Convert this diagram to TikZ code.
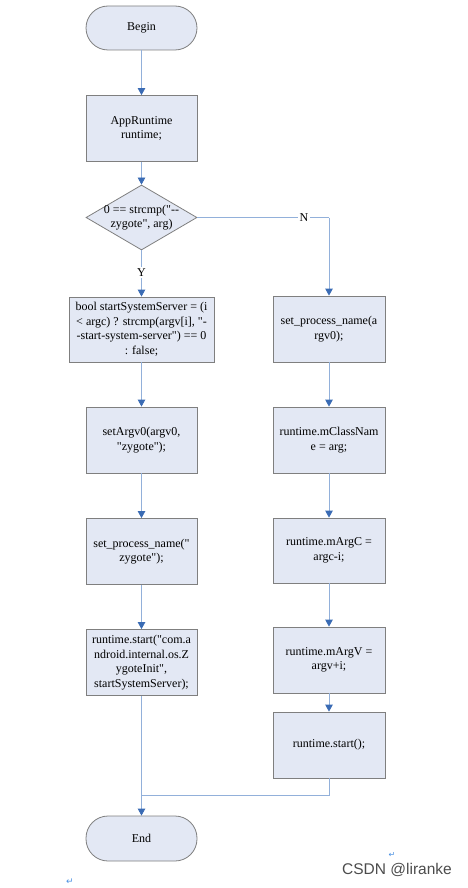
\documentclass[tikz,border=0pt]{standalone}
\usepackage{fontspec}
\setmainfont{Liberation Serif}[Ligatures=TeXOff]
\newfontfamily\wmfont{Liberation Sans}
\newfontfamily\symfont{DejaVu Sans}
\usetikzlibrary{shapes.geometric,arrows.meta}
\definecolor{boxfill}{HTML}{E3E8F4}
\definecolor{boxdraw}{HTML}{7F7F7F}
\definecolor{linecol}{HTML}{92B0DA}
\definecolor{tipcol}{HTML}{3A6BB4}
\definecolor{retcol}{HTML}{4A90E2}
\tikzset{
  box/.style={draw=boxdraw, fill=boxfill, line width=0.8pt, minimum width=111pt, minimum height=66pt, align=center, inner sep=1pt, font=\fontsize{12}{14.5}\selectfont},
  term/.style={box, rounded corners=22pt, minimum height=44pt},
  flow/.style={draw=linecol, line width=0.8pt, -{Triangle[width=7.5pt,length=7pt,color=tipcol]}},
  plain/.style={draw=linecol, line width=0.8pt},
  lab/.style={fill=white, inner sep=1.5pt, font=\fontsize{12}{14}\selectfont}
}
\begin{document}
\begin{tikzpicture}[x=1pt,y=-1pt]
\useasboundingbox (0,0) rectangle (467,888);
% left column
\node[term] (begin) at (141.5,28) {Begin};
\node[box] (app) at (141.5,128.5) {AppRuntime\\runtime;};
\node[draw=boxdraw, fill=boxfill, line width=0.8pt, diamond, minimum width=111pt, minimum height=65pt, inner sep=0pt] (dec) at (141.5,217.5) {};
\node[align=center, font=\fontsize{12}{14.5}\selectfont] (dectext) at (dec) {0 == strcmp("--\\zygote", arg)};
\node[box, minimum width=145pt, minimum height=65pt] (bool) at (141.5,329.5) {bool startSystemServer = (i\\ < argc) ? strcmp(argv[i], "-\\-start-system-server") == 0\\: false;};
\node[box] (setargv) at (141.5,440) {setArgv0(argv0,\\"zygote");};
\node[box] (spn) at (141.5,551.5) {set\_process\_name("\\zygote");};
\node[box] (rstart) at (141.5,662.5) {runtime.start("com.a\\ndroid.internal.os.Z\\ygoteInit",\\startSystemServer);};
\node[term, minimum height=45pt] (end) at (141.5,838.5) {End};
% right column
\node[box, minimum width=112pt] (r1) at (329,329) {set\_process\_name(a\\rgv0);};
\node[box, minimum width=112pt] (r2) at (329,440) {runtime.mClassNam\\e = arg;};
\node[box, minimum width=112pt, minimum height=65pt] (r3) at (329,550.5) {runtime.mArgC =\\argc-i;};
\node[box, minimum width=112pt] (r4) at (329,660) {runtime.mArgV =\\argv+i;};
\node[box, minimum width=112pt] (r5) at (329,745) {runtime.start();};
\coordinate (corner) at (329,217.5);
\coordinate (join) at (141.5,795);
% connectors
\draw[flow] (begin) -- (app);
\draw[flow] (app) -- (dec);
\draw[flow] (dec.south) -- node[lab, pos=0.47] (ylab) {Y} (bool.north);
\draw[plain] (dec.east) -- node[lab, pos=0.81] (nlab) {N} (corner);
\draw[flow] (corner) -- (r1.north);
\draw[flow] (bool) -- (setargv);
\draw[flow] (setargv) -- (spn);
\draw[flow] (spn) -- (rstart);
\draw[flow] (rstart) -- (end);
\draw[flow] (r1) -- (r2);
\draw[flow] (r2) -- (r3);
\draw[flow] (r3) -- (r4);
\draw[flow] (r4) -- (r5);
\draw[plain] (r5.south) |- (join);
% watermark
\node[font=\wmfont\fontsize{15.5}{16}\selectfont, text=black!70, anchor=base, inner sep=0pt] (wm) at (397,874) {CSDN @liranke};
\node[font=\symfont\fontsize{8}{8}\selectfont, text=retcol, inner sep=0pt] (ret1) at (392,855) {↵};
\node[font=\symfont\fontsize{9}{9}\selectfont, text=retcol, inner sep=0pt] (ret2) at (70,882) {↵};
\end{tikzpicture}
\end{document}
